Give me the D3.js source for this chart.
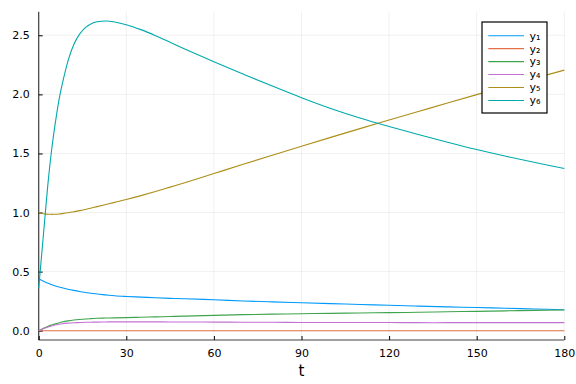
<!DOCTYPE html>
<html>
<head>
<meta charset="utf-8">
<script src="https://cdn.jsdelivr.net/npm/d3@7"></script>
<style>
  body { margin: 0; background: #fff; }
  svg { font-family: "DejaVu Sans", sans-serif; }
</style>
</head>
<body>
<svg width="576" height="384"></svg>
<script>
// time points shared by every series
const tValues = [0, 0.5, 1, 2, 3, 4, 5, 6, 7, 8, 10, 12, 14, 16, 18, 20, 23, 26, 30, 35, 40, 45, 50,
  60, 70, 80, 90, 100, 110, 120, 130, 140, 150, 160, 170, 180];

const y1 = [0.44, 0.433, 0.427, 0.415, 0.404, 0.394, 0.385, 0.377, 0.37, 0.363, 0.351, 0.341, 0.332, 0.324,
  0.317, 0.31, 0.303, 0.296, 0.29, 0.284, 0.279, 0.274, 0.27, 0.262, 0.252, 0.244, 0.236, 0.229, 0.222,
  0.215, 0.208, 0.202, 0.196, 0.19, 0.184, 0.178];
const y2 = [0, 0, 0, 0, 0, 0, 0, 0, 0, 0, 0, 0, 0, 0, 0, 0, 0, 0, 0, 0, 0, 0, 0,
  0, 0, 0, 0, 0, 0, 0, 0, 0, 0, 0, 0, 0];
const y3 = [0, 0.006, 0.012, 0.024, 0.035, 0.045, 0.053, 0.061, 0.068, 0.074, 0.083, 0.09, 0.095, 0.099,
  0.102, 0.105, 0.107, 0.109, 0.111, 0.114, 0.117, 0.12, 0.123, 0.13, 0.136, 0.14, 0.144, 0.147, 0.15,
  0.153, 0.156, 0.16, 0.164, 0.168, 0.172, 0.175];
const y4 = [0, 0.005, 0.01, 0.02, 0.029, 0.037, 0.044, 0.05, 0.055, 0.059, 0.064, 0.067, 0.069, 0.071,
  0.072, 0.073, 0.074, 0.075, 0.075, 0.075, 0.075, 0.074, 0.074, 0.073, 0.072, 0.071, 0.07, 0.07, 0.069,
  0.069, 0.068, 0.068, 0.068, 0.068, 0.068, 0.068];
const y5 = [1.0, 0.996, 0.993, 0.988, 0.986, 0.985, 0.985, 0.986, 0.988, 0.991, 0.998, 1.007, 1.016, 1.026,
  1.038, 1.05, 1.068, 1.086, 1.11, 1.143, 1.178, 1.215, 1.252, 1.33, 1.408, 1.485, 1.561, 1.636, 1.71,
  1.783, 1.855, 1.927, 1.998, 2.068, 2.137, 2.205];
const y6 = [0.36, 0.5, 0.64, 0.92, 1.2, 1.44, 1.64, 1.81, 1.96, 2.08, 2.28, 2.42, 2.51, 2.565, 2.598, 2.614,
  2.621, 2.613, 2.59, 2.548, 2.497, 2.441, 2.385, 2.276, 2.172, 2.07, 1.972, 1.881, 1.8, 1.728, 1.66,
  1.595, 1.533, 1.476, 1.423, 1.373];

const seriesNames = ["y₁", "y₂", "y₃", "y₄", "y₅", "y₆"];
const seriesValues = [y1, y2, y3, y4, y5, y6];
const colors = ["#009AFA", "#E36F47", "#3EA44E", "#C271D2", "#AC8E18", "#00A9AD"];

const xTicks = [0, 30, 60, 90, 120, 150, 180];
const yTicks = [0, 0.5, 1.0, 1.5, 2.0, 2.5];

const svg = d3.select("svg");
const width = +svg.attr("width");
const height = +svg.attr("height");

const margin = { top: 11.7, right: 11.7, bottom: 44, left: 38.7 };
const innerWidth = width - margin.left - margin.right;
const innerHeight = height - margin.top - margin.bottom;

// Plots.jl pads the y range by 3% of the data span on each side
const yMax = d3.max(seriesValues, s => d3.max(s));
const yMin = d3.min(seriesValues, s => d3.min(s));
const pad = (yMax - yMin) * 0.03;

const xScale = d3.scaleLinear().domain([0, 180]).range([0, innerWidth]);
const yScale = d3.scaleLinear().domain([yMin - pad, yMax + pad]).range([innerHeight, 0]);

const g = svg.append("g").attr("transform", `translate(${margin.left}, ${margin.top})`);

// grid
g.append("g")
  .selectAll("line.gx").data(xTicks).enter().append("line")
    .attr("x1", d => xScale(d)).attr("x2", d => xScale(d))
    .attr("y1", 0).attr("y2", innerHeight)
    .attr("stroke", "#000").attr("stroke-opacity", 0.1).attr("stroke-width", 0.6);
g.append("g")
  .selectAll("line.gy").data(yTicks).enter().append("line")
    .attr("x1", 0).attr("x2", innerWidth)
    .attr("y1", d => yScale(d)).attr("y2", d => yScale(d))
    .attr("stroke", "#000").attr("stroke-opacity", 0.1).attr("stroke-width", 0.6);

// axes, ticks point inward
const xAxis = d3.axisBottom(xScale).tickValues(xTicks).tickSize(-4).tickPadding(9);
const yAxis = d3.axisLeft(yScale).tickValues(yTicks).tickFormat(d3.format(".1f")).tickSize(-4).tickPadding(9);

const xAxisG = g.append("g").attr("transform", `translate(0, ${innerHeight})`).call(xAxis);
const yAxisG = g.append("g").call(yAxis);

[xAxisG, yAxisG].forEach(a => {
  a.select(".domain").remove();
  a.selectAll(".tick line").attr("stroke", "#000").attr("stroke-width", 1);
  a.selectAll(".tick text").attr("font-size", 11).attr("fill", "#000")
    .attr("font-family", "DejaVu Sans, sans-serif");
});

g.append("line").attr("x1", 0).attr("x2", innerWidth).attr("y1", innerHeight).attr("y2", innerHeight)
  .attr("stroke", "#000").attr("stroke-opacity", 0.75).attr("stroke-width", 1.2);
g.append("line").attr("x1", 0).attr("x2", 0).attr("y1", 0).attr("y2", innerHeight)
  .attr("stroke", "#000").attr("stroke-opacity", 0.75).attr("stroke-width", 1.2);

// x title
g.append("text")
  .attr("x", innerWidth / 2).attr("y", innerHeight + 36)
  .attr("text-anchor", "middle").attr("font-size", 15).attr("fill", "#000")
  .text("t");

// lines
const line = d3.line()
  .x((d, i) => xScale(tValues[i]))
  .y(d => yScale(d))
  .curve(d3.curveCatmullRom.alpha(0.5));

g.append("g").selectAll("path").data(seriesValues).enter().append("path")
  .attr("d", line)
  .attr("fill", "none")
  .attr("stroke", (d, i) => colors[i])
  .attr("stroke-width", 1.1);

// legend
const legend = svg.append("g").attr("transform", "translate(482, 22)");
legend.append("rect")
  .attr("width", 65).attr("height", 91)
  .attr("fill", "#fff").attr("stroke", "#000").attr("stroke-width", 1.2);

const rows = legend.selectAll("g.row").data(seriesNames).enter().append("g")
  .attr("transform", (d, i) => `translate(0, ${13.7 + i * 12.95})`);
rows.append("line")
  .attr("x1", 6.3).attr("x2", 42)
  .attr("stroke", (d, i) => colors[i]).attr("stroke-width", 1.1);
rows.append("text")
  .attr("x", 47.5).attr("dy", "0.35em")
  .attr("font-size", 11).attr("fill", "#000")
  .text(d => d);
</script>
</body>
</html>
